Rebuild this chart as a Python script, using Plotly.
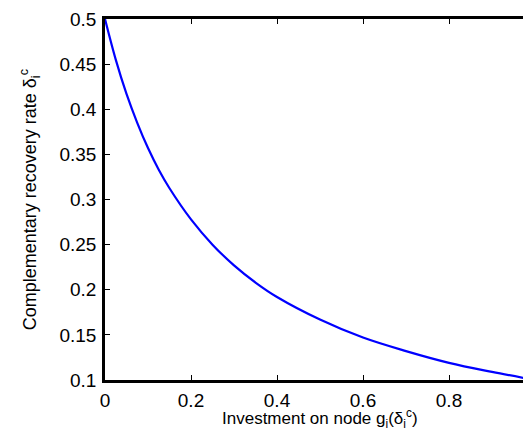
import plotly.graph_objects as go

# Values
investment = [0, 0.025, 0.05, 0.075, 0.1, 0.125, 0.15, 0.2, 0.25, 0.3, 0.35, 0.4,
              0.5, 0.6, 0.7, 0.8, 0.9, 1.0]
recovery_rate = [0.5, 0.455, 0.417, 0.385, 0.357, 0.333, 0.3125, 0.278, 0.25, 0.227,
                 0.208, 0.192, 0.167, 0.147, 0.132, 0.119, 0.109, 0.100]

x_ticks = [0, 0.2, 0.4, 0.6, 0.8, 1]
x_ticklabels = ["0", "0.2", "0.4", "0.6", "0.8", "1"]
y_ticks = [0.1, 0.15, 0.2, 0.25, 0.3, 0.35, 0.4, 0.45, 0.5]
y_ticklabels = ["0.1", "0.15", "0.2", "0.25", "0.3", "0.35", "0.4", "0.45", "0.5"]

x_title = "Investment on node g<sub>i</sub>(δ<sub>i</sub><sup>c</sup>)"
y_title = "Complementary recovery rate δ<sub>i</sub><sup>c</sup>"

FONT = "Liberation Sans, Arial, Helvetica, sans-serif"

fig = go.Figure()
fig.add_trace(go.Scatter(
    x=investment, y=recovery_rate, mode="lines",
    line=dict(color="#0000ff", width=2.2, shape="spline"),
    showlegend=False, hoverinfo="skip", cliponaxis=False,
))

axis_common = dict(
    showgrid=False, zeroline=False, showline=True, linecolor="black", linewidth=2.5,
    mirror="ticks", ticks="inside", ticklen=5, tickwidth=1.2, tickcolor="black",
    tickfont=dict(family=FONT, size=19, color="black"),
    automargin=False, ticklabeloverflow="allow",
)

fig.update_layout(
    width=531, height=430,
    margin=dict(l=97, r=4, t=11, b=58),
    paper_bgcolor="white", plot_bgcolor="white",
    font=dict(family=FONT, size=19, color="black"),
    xaxis=dict(range=[0, 1], tickvals=x_ticks, ticktext=x_ticklabels,
               ticklabelstandoff=1, **axis_common),
    yaxis=dict(range=[0.1, 0.5], tickvals=y_ticks, ticktext=y_ticklabels,
               ticklabelstandoff=2, **axis_common),
    annotations=[
        dict(text=x_title, xref="paper", yref="paper", x=0.5, y=-0.066,
             xanchor="center", yanchor="top", showarrow=False,
             font=dict(family=FONT, size=17, color="black")),
        dict(text=y_title, xref="paper", yref="paper", x=-0.175, y=0.5,
             xanchor="center", yanchor="middle", textangle=-90, showarrow=False,
             font=dict(family=FONT, size=18, color="black")),
    ],
)

fig.write_html("out.html")
